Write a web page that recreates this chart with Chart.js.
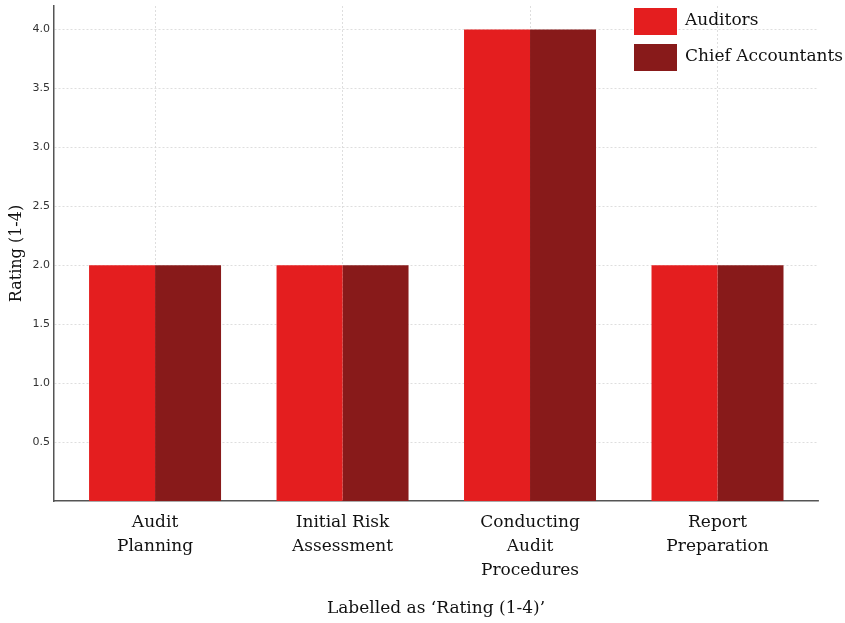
<!DOCTYPE html>
<html>
<head>
<meta charset="utf-8">
<script src="https://cdn.jsdelivr.net/npm/chart.js@4/dist/chart.umd.min.js"></script>
<style>
  html, body { margin: 0; padding: 0; background: #fff; }
  #wrap { width: 845px; height: 623px; }
</style>
</head>
<body>
<div id="wrap"><canvas id="ratings" width="845" height="623"></canvas></div>
<script>
const categories = [
  ['Audit', 'Planning'],
  ['Initial Risk', 'Assessment'],
  ['Conducting', 'Audit', 'Procedures'],
  ['Report', 'Preparation']
];
const seriesNames = ['Auditors', 'Chief Accountants'];
const auditors = [2, 2, 4, 2];
const chiefAccountants = [2, 2, 4, 2];
const colors = ['#e41e1f', '#881a1a'];
const yTicks = [0.5, 1.0, 1.5, 2.0, 2.5, 3.0, 3.5, 4.0];

const serif = "'DejaVu Serif', serif";
const sans = "'DejaVu Sans', sans-serif";

const toPoints = (values) => values.map((v, i) => ({ x: i, y: v }));

// legend drawn in the top right corner, over the plot like matplotlib's
const cornerLegend = {
  id: 'cornerLegend',
  afterDraw(chart) {
    const { ctx, chartArea } = chart;
    const x = chartArea.right - 184;
    ctx.save();
    ctx.font = '17px ' + serif;
    ctx.textBaseline = 'middle';
    chart.data.datasets.forEach((ds, i) => {
      const y = 8 + i * 36;
      ctx.fillStyle = ds.backgroundColor;
      ctx.fillRect(x, y, 43, 27);
      ctx.fillStyle = '#111';
      ctx.fillText(ds.label, x + 51, y + 13);
    });
    ctx.restore();
  }
};

const ctx = document.getElementById('ratings').getContext('2d');

new Chart(ctx, {
  type: 'bar',
  data: {
    datasets: [
      { label: seriesNames[0], data: toPoints(auditors), backgroundColor: colors[0] },
      { label: seriesNames[1], data: toPoints(chiefAccountants), backgroundColor: colors[1] }
    ]
  },
  options: {
    responsive: false,
    animation: false,
    layout: { padding: { top: 6, right: 27, left: 0, bottom: 0 } },
    categoryPercentage: 0.704,
    barPercentage: 1.0,
    plugins: {
      legend: { display: false },
      tooltip: { enabled: false }
    },
    scales: {
      x: {
        type: 'linear',
        offset: false,
        min: -0.539,
        max: 3.536,
        afterFit: (s) => { s.height = 122; s.paddingLeft = 0; s.paddingRight = 0; },
        afterBuildTicks: (s) => { s.ticks = categories.map((c, i) => ({ value: i })); },
        ticks: {
          color: '#111',
          padding: 10,
          maxRotation: 0,
          autoSkip: false,
          font: { family: serif, size: 17, lineHeight: 1.4 },
          callback: (value) => categories[value]
        },
        grid: { offset: false, color: '#d6d6d6', lineWidth: 0.8, drawTicks: false },
        border: { display: true, color: '#555', width: 1.5, dash: [2, 2] },
        title: {
          display: true,
          text: 'Labelled as \u2018Rating (1-4)\u2019',
          color: '#111',
          padding: 4,
          font: { family: serif, size: 17 }
        }
      },
      y: {
        min: 0,
        max: 4.2,
        afterFit: (s) => { s.width = 54; s.paddingTop = 0; s.paddingBottom = 0; },
        afterBuildTicks: (s) => { s.ticks = yTicks.map((v) => ({ value: v })); },
        ticks: {
          color: '#333',
          padding: 4,
          font: { family: sans, size: 11 },
          callback: (value) => value.toFixed(1)
        },
        grid: { color: '#d6d6d6', lineWidth: 0.8, drawTicks: false },
        border: { display: true, color: '#555', width: 1.5, dash: [2, 2] },
        title: {
          display: true,
          text: 'Rating (1-4)',
          color: '#111',
          padding: 7,
          font: { family: serif, size: 16 }
        }
      }
    }
  },
  plugins: [cornerLegend]
});
</script>
</body>
</html>
